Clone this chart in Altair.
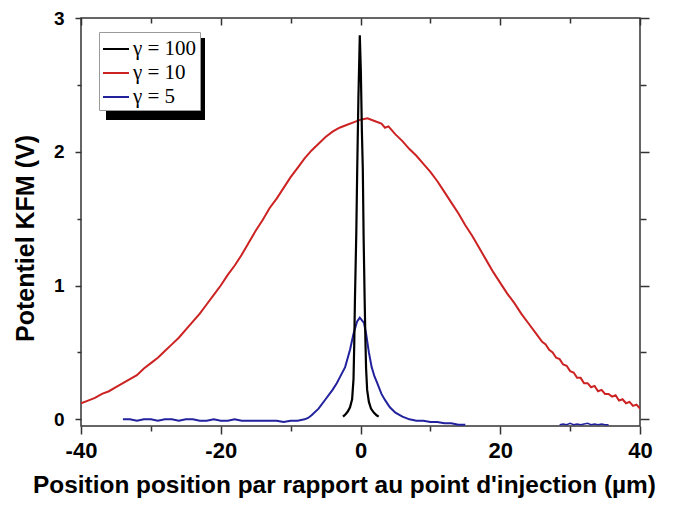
import altair as alt
import pandas as pd

# ---------------- data ----------------
series_labels = ["γ = 100", "γ = 10", "γ = 5"]
series_colors = ["#000000", "#cc2222", "#22229e"]

red_x = [-40, -39, -38, -37, -36, -35, -34, -33, -32, -31, -30, -29, -28, -27, -26, -25, -24, -23, -22, -21,
         -20, -19, -18, -17, -16, -15, -14, -13, -12, -11, -10, -9, -8, -7, -6, -5, -4, -3, -2, -1,
         0, 1, 2, 3, 3.5, 4, 5, 6, 7, 8, 9, 10, 11, 12, 13, 14, 15, 16, 17, 18, 19, 20, 21, 22, 23,
         24, 25, 26, 26.5, 27, 27.5, 28, 28.5, 29, 29.5, 30, 30.5, 31, 31.5, 32, 32.5, 33, 33.5, 34,
         34.5, 35, 35.5, 36, 36.5, 37, 37.5, 38, 38.5, 39, 39.5, 40]
red_y = [0.12, 0.14, 0.16, 0.19, 0.21, 0.24, 0.27, 0.30, 0.33, 0.38, 0.42, 0.46, 0.51, 0.56, 0.61, 0.67, 0.73, 0.79, 0.86, 0.93,
         1.00, 1.08, 1.15, 1.23, 1.32, 1.41, 1.49, 1.58, 1.65, 1.73, 1.81, 1.88, 1.95, 2.01, 2.06, 2.11, 2.15, 2.18, 2.20, 2.22,
         2.24, 2.25, 2.23, 2.21, 2.18, 2.19, 2.13, 2.08, 2.02, 1.97, 1.91, 1.85, 1.78, 1.70, 1.62, 1.54, 1.45, 1.37, 1.28, 1.19,
         1.10, 1.02, 0.94, 0.87, 0.79, 0.72, 0.65, 0.58, 0.56, 0.52, 0.50, 0.46, 0.45, 0.41, 0.40, 0.36, 0.35, 0.31, 0.31, 0.27,
         0.27, 0.24, 0.25, 0.21, 0.22, 0.19, 0.19, 0.17, 0.18, 0.14, 0.15, 0.12, 0.13, 0.10, 0.11, 0.08]

blue_x = [-34, -33, -32, -31, -30, -29, -28, -27, -26, -25, -24, -23, -22, -21, -20, -19, -18, -17, -16, -15,
          -14, -13, -12, -11, -10, -9, -8, -7.5, -7, -6, -5, -4, -3.4, -3, -2.2, -1.5, -1, -0.5, -0.1,
          0.5, 0.8, 1.2, 1.6, 2, 2.4, 3, 3.5, 4.2, 5, 6, 7, 8, 9, 10, 11, 12, 13, 14, 15]
blue_y = [0.00, 0.00, -0.01, 0.00, 0.00, -0.01, 0.00, 0.00, -0.01, 0.00, 0.00, -0.01, -0.01, 0.00, -0.01, -0.01, 0.00, -0.01, -0.01, -0.01,
          -0.01, -0.01, -0.01, -0.02, -0.01, -0.01, 0.00, 0.01, 0.03, 0.08, 0.15, 0.22, 0.27, 0.31, 0.39, 0.52, 0.64, 0.73, 0.76,
          0.72, 0.64, 0.50, 0.39, 0.32, 0.27, 0.19, 0.145, 0.09, 0.05, 0.02, 0.00, -0.01, -0.01, -0.02, -0.02, -0.03, -0.03, -0.04, -0.04]

blue_tail_x = [28.5, 29, 29.5, 30, 30.5, 31, 31.5, 32, 32.5, 33, 33.5, 34, 34.5, 35, 35.5]
blue_tail_y = [-0.04, -0.035, -0.04, -0.03, -0.04, -0.035, -0.04, -0.035, -0.03, -0.04, -0.035, -0.04, -0.035, -0.04, -0.04]

black_x = [-2.5, -2.1, -1.8, -1.5, -1.2, -1.0, -0.9, -0.8, -0.6, -0.47, -0.3, -0.1, 0.05, 0.2, 0.33,
           0.45, 0.6, 0.7, 0.8, 0.95, 1.2, 1.5, 1.9, 2.3, 2.6]
black_y = [0.02, 0.04, 0.06, 0.09, 0.15, 0.30, 0.55, 0.88, 1.40, 1.87, 2.40, 2.87, 2.60, 2.15, 1.87,
           1.35, 0.88, 0.60, 0.38, 0.22, 0.13, 0.08, 0.05, 0.03, 0.02]

x_major = [-40, -20, 0, 20, 40]
x_minor = [-30, -10, 10, 30]
y_major = [0, 1, 2, 3]
y_minor = [0.5, 1.5, 2.5]

x_title = "Position position par rapport au point d'injection (µm)"
y_title = "Potentiel KFM (V)"

# ---------------- chart ----------------
df_red = pd.DataFrame({"x": red_x, "y": red_y, "series": series_labels[1]})
df_blue = pd.DataFrame({"x": blue_x, "y": blue_y, "series": series_labels[2]})
df_blue_tail = pd.DataFrame({"x": blue_tail_x, "y": blue_tail_y, "series": series_labels[2]})
df_black = pd.DataFrame({"x": black_x, "y": black_y, "series": series_labels[0]})

xs = alt.Scale(domain=[-40, 40], nice=False, zero=False)
ys = alt.Scale(domain=[-0.05, 3], nice=False, zero=False)

legend = alt.Legend(
    title=None, orient="none", legendX=18, legendY=14,
    symbolType="stroke", symbolSize=676, symbolStrokeWidth=2,
    labelFont="Liberation Serif", labelFontSize=21, labelColor="black",
    labelFontWeight="normal", labelOffset=3,
    strokeColor="#9a9a9a", fillColor="white", padding=3, rowPadding=0,
)
color = alt.Color("series:N", scale=alt.Scale(domain=series_labels, range=series_colors), legend=legend)

ax_bottom_major = alt.Axis(orient="bottom", values=x_major, tickSize=8, labelPadding=6,
                           labelExpr="'' + datum.value", labelFontSize=22, labelFlush=False,
                           title=x_title, titleFontSize=24.4, titleX=263, titleY=66,
                           titleBaseline="alphabetic", titleAlign="center")
ax_bottom_minor = alt.Axis(orient="bottom", values=x_minor, tickSize=5, labels=False, title=None)
ax_top_major = alt.Axis(orient="top", values=x_major, tickSize=7, offset=-7, labels=False, title=None)
ax_top_minor = alt.Axis(orient="top", values=x_minor, tickSize=5, offset=-5, labels=False, title=None)

ax_left_major = alt.Axis(orient="left", values=y_major, tickSize=6, labelPadding=11,
                         labelExpr="'' + datum.value", labelFontSize=19, labelFlush=False,
                         title=y_title, titleFontSize=25, titleX=-48, titleY=220,
                         titleBaseline="alphabetic", titleAlign="center", titleAngle=270)
ax_left_minor = alt.Axis(orient="left", values=y_minor, tickSize=4, labels=False, title=None)
ax_right_major = alt.Axis(orient="right", values=y_major, tickSize=9, labels=False, title=None)
ax_right_minor = alt.Axis(orient="right", values=y_minor, tickSize=6, labels=False, title=None)


def line_layer(df, xaxis, yaxis, width=2.0):
    return alt.Chart(df).mark_line(strokeWidth=width, clip=True).encode(
        x=alt.X("x:Q", scale=xs, axis=xaxis),
        y=alt.Y("y:Q", scale=ys, axis=yaxis),
        color=color,
    )


shadow = alt.Chart(pd.DataFrame({"a": [0]})).mark_rect(color="black").encode(
    x=alt.value(25), x2=alt.value(124), y=alt.value(20), y2=alt.value(102)
)

chart = alt.layer(
    shadow,
    line_layer(df_red, ax_bottom_major, ax_left_major),
    line_layer(df_blue, ax_bottom_minor, ax_left_minor),
    line_layer(df_blue_tail, ax_top_minor, ax_right_minor, 1.5),
    line_layer(df_black, ax_top_major, ax_right_major, 2.2),
).resolve_axis(x="independent", y="independent").properties(
    width=559, height=408,
    autosize=alt.AutoSizeParams(type="none"),
    padding={"left": 73, "top": 10, "right": 28, "bottom": 72},
    background="white",
).configure_view(
    stroke="#333333", strokeWidth=1.5
).configure_axis(
    grid=False, domain=False, tickColor="#333333", tickWidth=1.5,
    labelColor="black", titleColor="black",
    labelFont="Liberation Sans", titleFont="Liberation Sans",
    labelFontWeight="bold", titleFontWeight="bold",
)

chart.save("out.html", embed_options={"renderer": "svg", "actions": False})
